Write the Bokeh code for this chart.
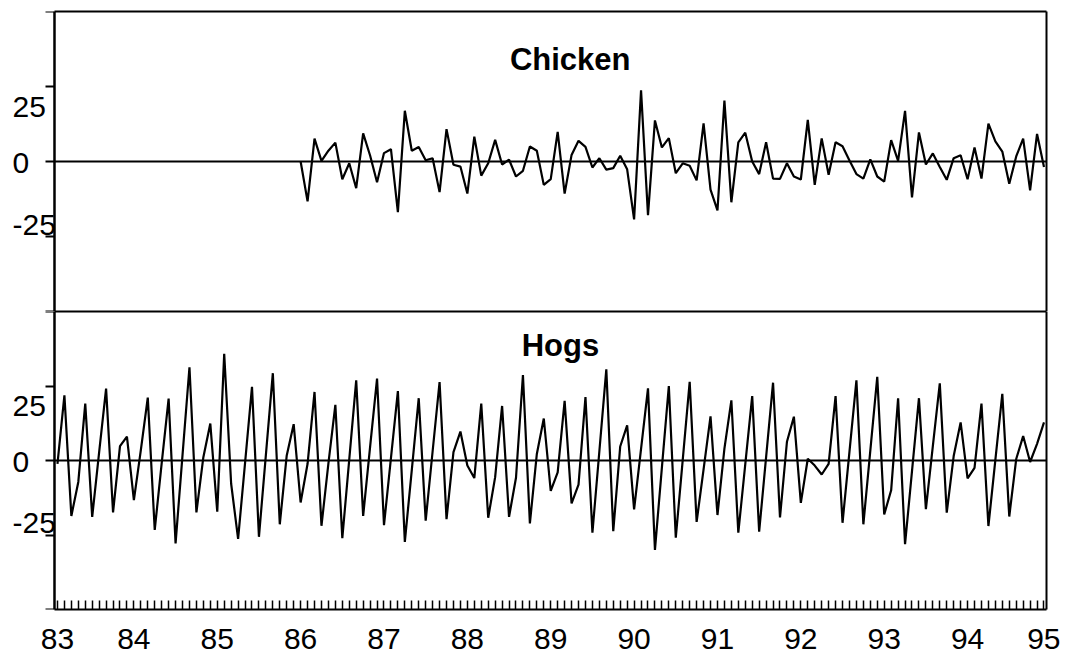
from bokeh.plotting import figure
from bokeh.models import LinearAxis, FixedTicker, Label, Range1d, ColumnDataSource, Span
from bokeh.layouts import column
from bokeh.embed import file_html
from bokeh.resources import INLINE

# months counted from Jan 1983 (1 = Feb 1983 ... 143 = Dec 1994)
hog_months = list(range(1, 144))
hogs = [
    -1.1, 21.9, -18.6, -7.2, 19.1, -18.9, 2.8, 24.1, -17.4, 4.8, 8.0, -13.3,
    3.5, 21.1, -23.3, -1.0, 20.8, -27.8, 1.8, 31.3, -17.4, 1.1, 12.4, -17.2,
    35.8, -7.8, -26.3, -0.9, 24.7, -25.6, 1.9, 29.3, -21.4, 1.7, 12.2, -14.1,
    -1.1, 23.0, -21.9, -1.0, 18.7, -26.1, 0.4, 26.9, -18.6, 4.6, 27.5, -21.7,
    0.8, 23.3, -27.3, -3.2, 20.9, -20.2, 3.1, 26.3, -19.7, 2.8, 9.7, -1.7,
    -5.9, 19.1, -19.2, -5.6, 18.3, -18.9, -5.8, 28.7, -21.1, 2.2, 14.1, -10.2,
    -4.0, 20.0, -14.4, -8.1, 21.3, -24.2, 3.1, 30.6, -23.7, 4.7, 11.8, -16.4,
    3.9, 24.2, -30.0, -2.4, 25.0, -25.9, 0.2, 26.4, -20.6, -3.0, 14.8, -18.3,
    4.0, 20.2, -24.2, -1.3, 21.6, -23.9, 1.1, 26.1, -19.1, 6.3, 14.7, -14.2,
    0.6, -1.7, -4.7, -1.1, 21.6, -20.9, 3.0, 26.9, -21.4, 3.3, 28.1, -18.1,
    -10.0, 20.9, -28.1, -3.6, 20.9, -16.3, 4.8, 25.9, -17.5, 1.5, 12.8, -6.0,
    -2.5, 19.1, -22.0, 0.2, 22.4, -18.8, 0.5, 8.2, -0.5, 5.6, 12.8,
]

# months from Jan 1986 to Dec 1994
chicken_months = list(range(36, 144))
chicken = [
    0.0, -13.3, 7.6, 0.2, 3.6, 6.3, -5.9, -0.6, -8.9, 9.4, 2.0, -6.9,
    2.8, 4.1, -16.9, 16.9, 3.6, 4.8, 0.4, 1.1, -10.2, 10.8, -1.1, -1.7,
    -10.7, 8.3, -4.7, -0.6, 7.2, -1.0, 0.6, -5.0, -3.1, 5.0, 3.6, -7.8,
    -5.9, 9.9, -10.7, 2.2, 6.9, 4.9, -2.0, 1.1, -2.7, -2.2, 1.9, -2.6,
    -19.3, 23.7, -17.9, 13.7, 4.7, 7.8, -3.9, -0.6, -1.4, -6.3, 12.7, -9.4,
    -16.3, 20.3, -13.6, 6.4, 9.6, 0.0, -4.2, 6.4, -5.7, -5.8, -0.6, -5.0,
    -6.0, 13.9, -7.8, 7.7, -4.4, 6.4, 5.1, 0.3, -4.2, -5.7, 0.7, -5.0,
    -6.7, 7.1, 0.2, 16.9, -12.0, 9.7, -1.0, 2.7, -1.8, -6.1, 1.1, 2.1,
    -5.9, 4.7, -5.7, 12.6, 6.7, 3.3, -7.4, 1.7, 7.6, -9.6, 9.2, -1.8,
]

year_ticks = [1, 12, 24, 36, 48, 60, 72, 84, 96, 108, 120, 132, 143]
year_labels = ["83", "84", "85", "86", "87", "88", "89", "90", "91", "92", "93", "94", "95"]
y_ticks = [-50, -25, 0, 25, 50]
y_tick_labels = ["25", "0", "-25"]

FONT = "Liberation Sans"
AXIS_X = 0.57          # where the vertical axis sits (just before the first month)
X_END = 143.36
# the frame reaches a little further left so the original's left-aligned tick labels fit in it
xr = Range1d(-5.76, X_END)

# where the original drew its y tick labels (a bit off their ticks)
LABEL_POS = [18.3, -0.4, -21.0]


def border_axis(**kw):
    return LinearAxis(ticker=FixedTicker(ticks=[], minor_ticks=[]),
                      axis_line_width=2, axis_line_color="black",
                      major_tick_out=0, major_tick_in=0, minor_tick_out=0, minor_tick_in=0,
                      major_label_standoff=0, **kw)


def panel(title, months, values, frame_h, top, bottom, title_x, title_y, top_line, bottom_line):
    p = figure(frame_width=1036, frame_height=frame_h, x_range=xr, y_range=Range1d(-50, 50),
               x_axis_location=None, y_axis_location=None, toolbar_location=None,
               output_backend="svg", min_border_left=10, min_border_right=14,
               min_border_top=top, min_border_bottom=bottom,
               background_fill_color="white", border_fill_color="white")
    p.outline_line_color = None
    p.xgrid.visible = False
    p.ygrid.visible = False

    # vertical value axis with outside ticks
    yax = LinearAxis(fixed_location=AXIS_X, ticker=FixedTicker(ticks=y_ticks, minor_ticks=[]),
                     major_tick_out=9, major_tick_in=0, minor_tick_out=0, minor_tick_in=0,
                     axis_line_width=2, axis_line_color="black",
                     major_tick_line_width=2, major_tick_line_color="black",
                     major_label_overrides={t: "" for t in y_ticks},
                     major_label_standoff=0, major_label_text_font_size="1px")
    p.add_layout(yax, "left")
    p.add_layout(Span(location=AXIS_X, dimension="height", line_color="black", line_width=2))

    # right border
    p.add_layout(border_axis(), "right")
    # zero line
    p.add_layout(border_axis(fixed_location=0, bounds=(AXIS_X, X_END)), "below")
    if top_line:
        p.add_layout(border_axis(bounds=(AXIS_X, X_END)), "above")
    if bottom_line:
        p.add_layout(border_axis(bounds=(AXIS_X, X_END)), "below")

    src = ColumnDataSource(dict(x=months, y=values))
    p.line("x", "y", source=src, line_color="black", line_width=2.2)

    for txt, yv in zip(y_tick_labels, LABEL_POS):
        p.add_layout(Label(x=2, x_units="screen", y=yv, text=txt, text_font=FONT,
                           text_font_size="30px", text_align="left",
                           text_baseline="middle", text_color="black"))

    p.add_layout(Label(x=title_x, y=title_y, text=title, text_font=FONT,
                       text_font_size="31px", text_font_style="bold",
                       text_align="center", text_baseline="middle", text_color="black"))
    return p


p1 = panel("Chicken", chicken_months, chicken, 300, 11, 0, 74.8, 34.0, True, True)
p2 = panel("Hogs", hog_months, hogs, 298, 0, 47, 73.4, 38.5, True, False)

xax = LinearAxis(ticker=FixedTicker(ticks=year_ticks, minor_ticks=list(range(1, 144))),
                 bounds=(AXIS_X, X_END),
                 major_tick_in=0, major_tick_out=0,
                 minor_tick_in=9, minor_tick_out=0,
                 minor_tick_line_width=1.5, minor_tick_line_color="black",
                 axis_line_width=2, axis_line_color="black",
                 major_label_overrides=dict(zip(year_ticks, year_labels)),
                 major_label_text_font=FONT, major_label_text_font_size="30px",
                 major_label_text_color="black", major_label_standoff=19)
p2.add_layout(xax, "below")

layout = column(p1, p2)
open("out.html", "w").write(file_html(layout, INLINE))
